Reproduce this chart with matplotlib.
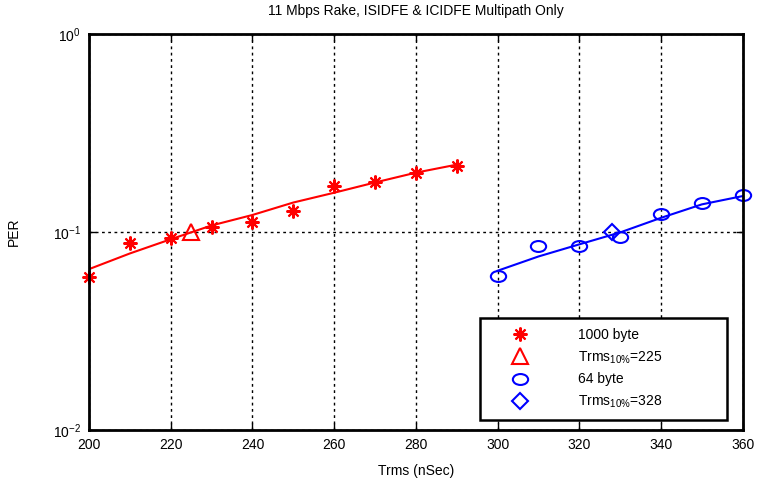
import matplotlib
matplotlib.use('Agg')
import matplotlib.pyplot as plt
from matplotlib.lines import Line2D
from matplotlib.path import Path
from matplotlib.transforms import Affine2D
from matplotlib.ticker import NullLocator, FixedLocator

plt.rcParams['font.family'] = ['Liberation Sans', 'DejaVu Sans']
plt.rcParams['mathtext.fontset'] = 'custom'
plt.rcParams['mathtext.rm'] = 'Liberation Sans'
plt.rcParams['mathtext.it'] = 'Liberation Sans:italic'
plt.rcParams['mathtext.bf'] = 'Liberation Sans:bold'

# ---- data ----
x_1000 = [200, 210, 220, 230, 240, 250, 260, 270, 280, 290]
per_1000 = [0.059, 0.0876, 0.093, 0.1065, 0.112, 0.128, 0.171, 0.179, 0.198, 0.215]
fit_1000 = [0.065, 0.078, 0.092, 0.108, 0.122, 0.141, 0.158, 0.178, 0.1995, 0.219]
x_64 = [300, 310, 320, 330, 340, 350, 360]
per_64 = [0.060, 0.0846, 0.0846, 0.0944, 0.1237, 0.140, 0.153]
fit_64 = [0.0638, 0.0753, 0.0867, 0.0996, 0.118, 0.138, 0.152]
trms10_1000 = 225
trms10_64 = 328
per_target = 0.1
x_ticks = [200, 220, 240, 260, 280, 300, 320, 340, 360]
y_ticks = [1e-2, 1e-1, 1e0]
labels = ['1000 byte', r'Trms$_{10\%}$=225', '64 byte', r'Trms$_{10\%}$=328']

red = '#FF0000'
blue = '#0000FF'
star = (8, 2, 0)
ellipse = Path.unit_circle().transformed(Affine2D().scale(1.4, 1.0))

fig = plt.figure(figsize=(7.61, 4.79), dpi=100)
ax = fig.add_axes([0.117, 0.102, 0.859, 0.827])

ax.plot(x_1000, fit_1000, color=red, lw=1.5)
ax.plot(x_1000, per_1000, linestyle='None', marker=star, color=red, markersize=10, mew=1.5, clip_on=False)
ax.plot([trms10_1000], [per_target], linestyle='None', marker='^', color=red, mfc='none',
        markersize=11, mew=1.5, clip_on=False)
ax.plot(x_64, fit_64, color=blue, lw=1.5)
ax.plot(x_64, per_64, linestyle='None', marker=ellipse, color=blue, mfc='none', markersize=11,
        mew=1.5, clip_on=False)
ax.plot([trms10_64], [per_target], linestyle='None', marker='D', color=blue, mfc='none',
        markersize=8, mew=1.5, clip_on=False)

ax.set_yscale('log')
ax.set_xlim(200, 360)
ax.set_ylim(1e-2, 1e0)
ax.xaxis.set_major_locator(FixedLocator(x_ticks))
ax.yaxis.set_major_locator(FixedLocator(y_ticks))
ax.yaxis.set_minor_locator(NullLocator())
ax.tick_params(direction='in', top=True, right=True, length=5, width=1, labelsize=10, pad=6)
ax.grid(True, color='k', linestyle=(0, (2, 2.5)), linewidth=1)

for s in ax.spines.values():
    s.set_linewidth(2)
    s.set_zorder(3)

ax.set_title('11 Mbps Rake, ISIDFE & ICIDFE Multipath Only', fontsize=10, pad=14)
ax.set_xlabel('Trms (nSec)', fontsize=10, labelpad=8)
ax.set_ylabel('PER', fontsize=10)
ax.yaxis.set_label_coords(-0.105, 0.5)

handles = [
    Line2D([], [], linestyle='None', marker=star, color=red, markersize=10, mew=1.5),
    Line2D([], [], linestyle='None', marker='^', color=red, mfc='none', markersize=11, mew=1.5),
    Line2D([], [], linestyle='None', marker=ellipse, color=blue, mfc='none', markersize=11, mew=1.5),
    Line2D([], [], linestyle='None', marker='D', color=blue, mfc='none', markersize=8, mew=1.5),
]
leg = ax.legend(handles, labels, loc='lower left', bbox_to_anchor=(0.598, 0.025, 0.378, 0.265),
                mode='expand', fancybox=False, edgecolor='k', framealpha=1, borderaxespad=0,
                handlelength=4.3, handletextpad=2.0, labelspacing=0.5, borderpad=0.75, fontsize=10)
leg.get_frame().set_linewidth(1.8)
leg.set_zorder(5)

fig.savefig('out.png', dpi=100)
